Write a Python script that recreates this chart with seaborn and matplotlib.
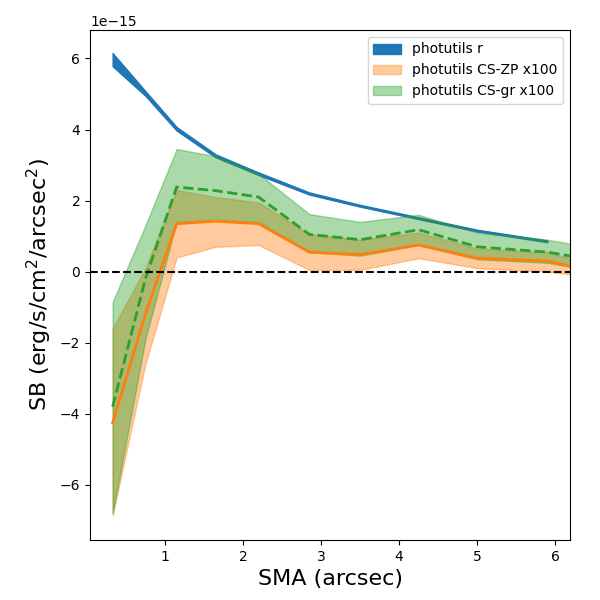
import numpy as np
import matplotlib
matplotlib.use("Agg")
import matplotlib.pyplot as plt
import seaborn as sns

plt.rcParams['font.family'] = ['DejaVu Sans']

# radii (arcsec)
sma_r = [0.33, 0.75, 1.15, 1.65, 2.2, 2.85, 3.5, 4.25, 5.0, 5.9]
sma_c = [0.33, 0.75, 1.15, 1.65, 2.2, 2.85, 3.5, 4.25, 5.0, 5.9, 6.3]

# r-band profile (units 1e-15)
r_lo = [5.78, 4.95, 3.97, 3.22, 2.72, 2.17, 1.83, 1.48, 1.13, 0.83]
r_hi = [6.15, 5.08, 4.07, 3.30, 2.79, 2.23, 1.88, 1.53, 1.18, 0.88]

# colour-corrected, x100
zp_mid = [-4.25, -1.2, 1.35, 1.42, 1.35, 0.55, 0.48, 0.75, 0.38, 0.3, 0.1]
zp_lo = [-6.85, -2.6, 0.4, 0.7, 0.75, 0.05, 0.05, 0.38, 0.1, 0.0, -0.1]
zp_hi = [-1.6, 0.1, 2.3, 2.1, 1.95, 1.05, 0.9, 1.1, 0.65, 0.55, 0.3]

gr_mid = [-3.8, -0.2, 2.38, 2.28, 2.1, 1.05, 0.9, 1.18, 0.7, 0.55, 0.4]
gr_lo = [-6.8, -1.9, 1.4, 1.45, 1.4, 0.55, 0.45, 0.75, 0.35, 0.25, 0.1]
gr_hi = [-0.85, 1.3, 3.45, 3.25, 2.75, 1.62, 1.4, 1.6, 1.1, 0.9, 0.75]

s = 1e-15
pal = sns.color_palette("tab10")

fig, ax = plt.subplots(figsize=(6, 6), dpi=100)
ax.fill_between(sma_r, np.array(r_lo) * s, np.array(r_hi) * s, color=pal[0], label="photutils r")
ax.fill_between(sma_c, np.array(zp_lo) * s, np.array(zp_hi) * s, color=pal[1], alpha=0.4, label="photutils CS-ZP x100")
ax.fill_between(sma_c, np.array(gr_lo) * s, np.array(gr_hi) * s, color=pal[2], alpha=0.4, label="photutils CS-gr x100")
sns.lineplot(x=sma_c, y=np.array(zp_mid) * s, color=pal[1], lw=2, ax=ax)
sns.lineplot(x=sma_c, y=np.array(gr_mid) * s, color=pal[2], lw=2, ls="--", ax=ax)
ax.axhline(0, color="k", ls="--")

ax.set_xlim(0.04, 6.19)
ax.set_ylim(-7.55e-15, 6.8e-15)
ax.set_xlabel("SMA (arcsec)", fontsize=16)
ax.set_ylabel("SB (erg/s/cm$^2$/arcsec$^2$)", fontsize=16)
ax.legend(loc="upper right")
fig.subplots_adjust(left=0.15, right=0.95, top=0.95, bottom=0.1)
fig.savefig("out.png")
